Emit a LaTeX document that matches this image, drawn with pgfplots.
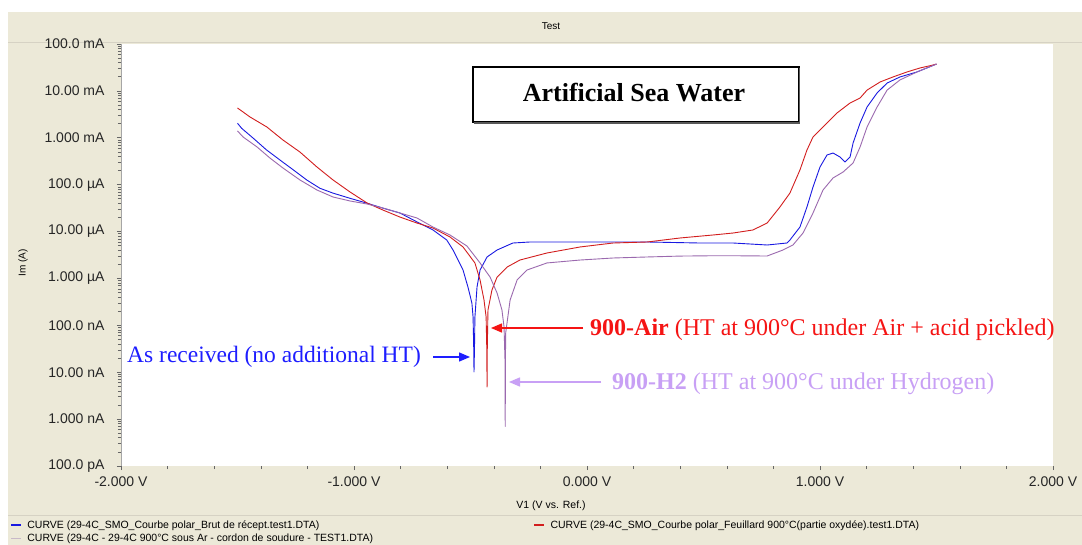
\documentclass[border=0pt]{standalone}
\usepackage{pgfplots}
\pgfplotsset{compat=1.18}
\usepackage{fontspec}
\setmainfont{Liberation Sans}
\newfontfamily\tnr{Liberation Serif}
\usetikzlibrary{arrows.meta}
\definecolor{panel}{RGB}{236,233,216}
\definecolor{panelline}{RGB}{214,210,196}
\definecolor{cblue}{RGB}{25,25,225}
\definecolor{cred}{RGB}{210,30,30}
\definecolor{cpurp}{RGB}{155,105,175}
\definecolor{tblue}{RGB}{30,30,255}
\definecolor{tred}{RGB}{245,20,20}
\definecolor{tpurp}{RGB}{200,160,245}
\definecolor{lgray}{RGB}{200,185,200}
\begin{document}
\begin{tikzpicture}
\fill[white] (0,0) rectangle (1082bp,545bp);
\fill[panel] (8bp,0) rectangle (1082bp,533bp);
\draw[panelline, line width=1bp] (8bp,502bp) -- (1082bp,502bp);
\draw[panelline, line width=1bp] (8bp,29bp) -- (1082bp,29bp);
\begin{axis}[
  at={(121bp,79bp)}, anchor=south west,
  width=932bp, height=422bp, scale only axis,
  xmin=-2, xmax=2, ymin=1e-10, ymax=1e-1,
  ymode=log,
  axis background/.style={fill=white},
  axis lines*=left,
  tick pos=left,
  y axis line style={draw=gray!70, line width=0.8bp},
  x axis line style={draw=none},
  tick align=outside,
  major tick length=4bp, minor tick length=3bp,
  every tick/.style={gray!80!black, line width=0.6bp},
  xtick={-2,-1,0,1,2},
  xticklabels={-2.000 V,-1.000 V,0.000 V,1.000 V,2.000 V},
  minor x tick num=4,
  ytick={1e-10,1e-9,1e-8,1e-7,1e-6,1e-5,1e-4,1e-3,1e-2,1e-1},
  yticklabels={100.0 pA,1.000 nA,10.00 nA,100.0 nA,1.000 µA,10.00 µA,100.0 µA,1.000 mA,10.00 mA,100.0 mA},
  minor ytick={2e-10,3e-10,4e-10,5e-10,6e-10,7e-10,8e-10,9e-10,
    2e-9,3e-9,4e-9,5e-9,6e-9,7e-9,8e-9,9e-9,
    2e-8,3e-8,4e-8,5e-8,6e-8,7e-8,8e-8,9e-8,
    2e-7,3e-7,4e-7,5e-7,6e-7,7e-7,8e-7,9e-7,
    2e-6,3e-6,4e-6,5e-6,6e-6,7e-6,8e-6,9e-6,
    2e-5,3e-5,4e-5,5e-5,6e-5,7e-5,8e-5,9e-5,
    2e-4,3e-4,4e-4,5e-4,6e-4,7e-4,8e-4,9e-4,
    2e-3,3e-3,4e-3,5e-3,6e-3,7e-3,8e-3,9e-3,
    2e-2,3e-2,4e-2,5e-2,6e-2,7e-2,8e-2,9e-2},
  tick label style={font=\fontsize{14bp}{16bp}\selectfont, text=black!85},
  yticklabel style={xshift=-9bp},
  xticklabel style={yshift=-3bp},
  title={Test},
  title style={at={(axis description cs:0.4614,1.0284)}, anchor=center, font=\fontsize{10bp}{12bp}\selectfont},
  xlabel={V1 (V vs. Ref.)},
  xlabel style={at={(axis description cs:0.4614,-0.0948)}, anchor=center, font=\fontsize{10.5bp}{12bp}\selectfont},
  ylabel={Im (A)},
  ylabel style={at={(axis description cs:-0.1052,0.481)}, anchor=center, rotate=0, font=\fontsize{10bp}{12bp}\selectfont},
  legend columns=2,
  legend cell align=left,
  legend style={at={(axis description cs:-0.1186,-0.125)}, anchor=north west, draw=none, fill=none, inner sep=0pt, row sep=1.5bp, font=\fontsize{10.5bp}{12bp}\selectfont, nodes={inner sep=1.5bp},
    /tikz/every odd column/.append style={column sep=4bp}},
  legend image code/.code={\draw[#1, line width=1.2bp] (0bp,0bp) -- (10bp,0bp);},
  line join=round,
]
% As received (blue)
\addplot[cblue, line width=0.9bp, forget plot] coordinates {
(-1.500,2.04e-3) (-1.482,1.59e-3) (-1.432,9.75e-4) (-1.375,5.48e-4) (-1.318,3.36e-4)
(-1.260,2.06e-4) (-1.203,1.26e-4) (-1.146,8.37e-5) (-1.090,6.60e-5) (-1.017,5.12e-5)
(-0.945,4.04e-5) (-0.876,3.16e-5) (-0.803,2.49e-5) (-0.731,1.62e-5) (-0.661,1.08e-5)
(-0.602,6.61e-6) (-0.575,4.04e-6) (-0.532,1.51e-6) (-0.511,6.57e-7) (-0.494,2.99e-7)
(-0.489,1.51e-7) (-0.486,2.98e-8) (-0.485,1.01e-8) (-0.483,3.0e-8) (-0.481,1.51e-7)
(-0.472,6.57e-7) (-0.459,1.51e-6) (-0.429,2.87e-6) (-0.386,4.04e-6) (-0.318,5.70e-6)
(-0.245,5.99e-6) (-0.030,6.0e-6) (0.258,5.99e-6) (0.485,5.70e-6) (0.627,5.70e-6)
(0.773,5.17e-6) (0.858,5.70e-6) (0.871,6.61e-6) (0.914,1.25e-5) (0.944,3.34e-5)
(0.970,8.92e-5) (1.000,2.38e-4) (1.030,4.29e-4) (1.056,4.73e-4) (1.086,3.89e-4)
(1.107,3.04e-4) (1.129,3.89e-4) (1.142,7.74e-4) (1.172,2.07e-3) (1.202,4.53e-3)
(1.245,9.02e-3) (1.288,1.47e-2) (1.343,1.98e-2) (1.416,2.53e-2) (1.500,3.74e-2)
};
% 900-Air (red)
\addplot[cred, line width=0.9bp, forget plot] coordinates {
(-1.500,4.32e-3) (-1.446,2.77e-3) (-1.374,1.70e-3) (-1.305,8.97e-4) (-1.232,4.97e-4)
(-1.159,2.38e-4) (-1.090,1.26e-4) (-1.017,6.98e-5) (-0.944,4.07e-5) (-0.876,2.88e-5)
(-0.803,2.04e-5) (-0.730,1.52e-5) (-0.661,1.19e-5) (-0.588,7.66e-6) (-0.532,4.69e-6)
(-0.481,2.14e-6) (-0.459,9.27e-7) (-0.442,3.47e-7) (-0.433,1.51e-7) (-0.430,3.0e-8)
(-0.429,4.84e-9) (-0.428,3.0e-8) (-0.425,2.12e-7) (-0.408,5.67e-7) (-0.386,1.07e-6)
(-0.343,1.75e-6) (-0.288,2.47e-6) (-0.172,3.49e-6) (-0.030,4.69e-6) (0.112,5.70e-6)
(0.258,5.99e-6) (0.399,7.29e-6) (0.541,8.45e-6) (0.627,9.31e-6) (0.712,1.08e-5)
(0.773,1.52e-5) (0.828,3.34e-5) (0.871,6.64e-5) (0.914,2.06e-4) (0.944,5.48e-4)
(0.970,1.04e-3) (1.013,1.70e-3) (1.073,3.38e-3) (1.129,5.52e-3) (1.172,7.05e-3)
(1.202,1.04e-2) (1.258,1.55e-2) (1.313,1.98e-2) (1.373,2.53e-2) (1.429,3.08e-2)
(1.485,3.56e-2) (1.500,3.74e-2)
};
% 900-H2 (purple)
\addplot[cpurp, line width=0.9bp, forget plot] coordinates {
(-1.500,1.40e-3) (-1.476,1.04e-3) (-1.416,6.36e-4) (-1.361,3.71e-4) (-1.305,2.27e-4)
(-1.232,1.26e-4) (-1.159,7.70e-5) (-1.090,5.46e-5) (-1.017,4.49e-5) (-0.944,3.87e-5)
(-0.876,3.18e-5) (-0.803,2.49e-5) (-0.730,1.95e-5) (-0.661,1.25e-5) (-0.588,8.45e-6)
(-0.515,4.90e-6) (-0.459,2.14e-6) (-0.416,1.07e-6) (-0.386,4.90e-7) (-0.365,2.12e-7)
(-0.356,9.22e-8) (-0.352,1.82e-8) (-0.351,7.0e-10) (-0.350,1.82e-8) (-0.349,6.87e-8)
(-0.330,3.47e-7) (-0.300,9.27e-7) (-0.258,1.51e-6) (-0.172,2.14e-6) (-0.030,2.47e-6)
(0.112,2.73e-6) (0.258,2.87e-6) (0.399,3.0e-6) (0.541,3.05e-6) (0.627,3.05e-6)
(0.773,3.01e-6) (0.841,4.04e-6) (0.884,5.17e-6) (0.927,9.31e-6) (0.970,2.49e-5)
(1.013,7.70e-5) (1.056,1.39e-4) (1.099,1.86e-4) (1.142,2.90e-4) (1.172,6.36e-4)
(1.202,1.70e-3) (1.245,4.53e-3) (1.288,1.04e-2) (1.343,1.71e-2) (1.416,2.53e-2)
(1.500,3.74e-2)
};
\addlegendimage{color=cblue}
\addlegendentry{\makebox[505bp][l]{CURVE (29-4C\_SMO\_Courbe polar\_Brut de récept.test1.DTA)}}
\addlegendimage{color=cred}
\addlegendentry{CURVE (29-4C\_SMO\_Courbe polar\_Feuillard 900°C(partie oxydée).test1.DTA)}
\addlegendimage{color=lgray}
\addlegendentry{\makebox[505bp][l]{CURVE (29-4C - 29-4C 900°C sous Ar - cordon de soudure - TEST1.DTA)}}
\end{axis}
\begin{scope}[x=1bp,y=1bp]
\node[draw=black, line width=1.2bp, fill=white, minimum width=326bp, minimum height=55bp, inner sep=0] at (636,450.5) {};
\draw[black!65, line width=1.5bp] (474,422) -- (799.5,422) -- (799.5,477);
\node[anchor=base, inner sep=0] at (634,443) {\tnr\bfseries\fontsize{26bp}{30bp}\selectfont Artificial Sea Water};
\node[anchor=base west, inner sep=0, text=tblue] at (127,183) {\tnr\fontsize{23.5bp}{28bp}\selectfont As received (no additional HT)};
\draw[tblue, line width=1.3bp, -{Triangle[length=11bp,width=9bp]}] (433,188) -- (470,188);
\node[anchor=base west, inner sep=0, text=tred] at (590,210) {\tnr\fontsize{24bp}{28bp}\selectfont\textbf{900-Air} (HT at 900°C under Air + acid pickled)};
\draw[tred, line width=1.3bp, -{Triangle[length=11bp,width=9bp]}] (583,217) -- (491,217);
\node[anchor=base west, inner sep=0, text=tpurp] at (612,156) {\tnr\fontsize{24bp}{28bp}\selectfont\textbf{900-H2} (HT at 900°C under Hydrogen)};
\draw[tpurp, line width=1.3bp, -{Triangle[length=11bp,width=9bp]}] (601,163) -- (509,163);
\end{scope}
\pgfresetboundingbox
\useasboundingbox (0,0) rectangle (1082bp,545bp);
\end{tikzpicture}
\end{document}
